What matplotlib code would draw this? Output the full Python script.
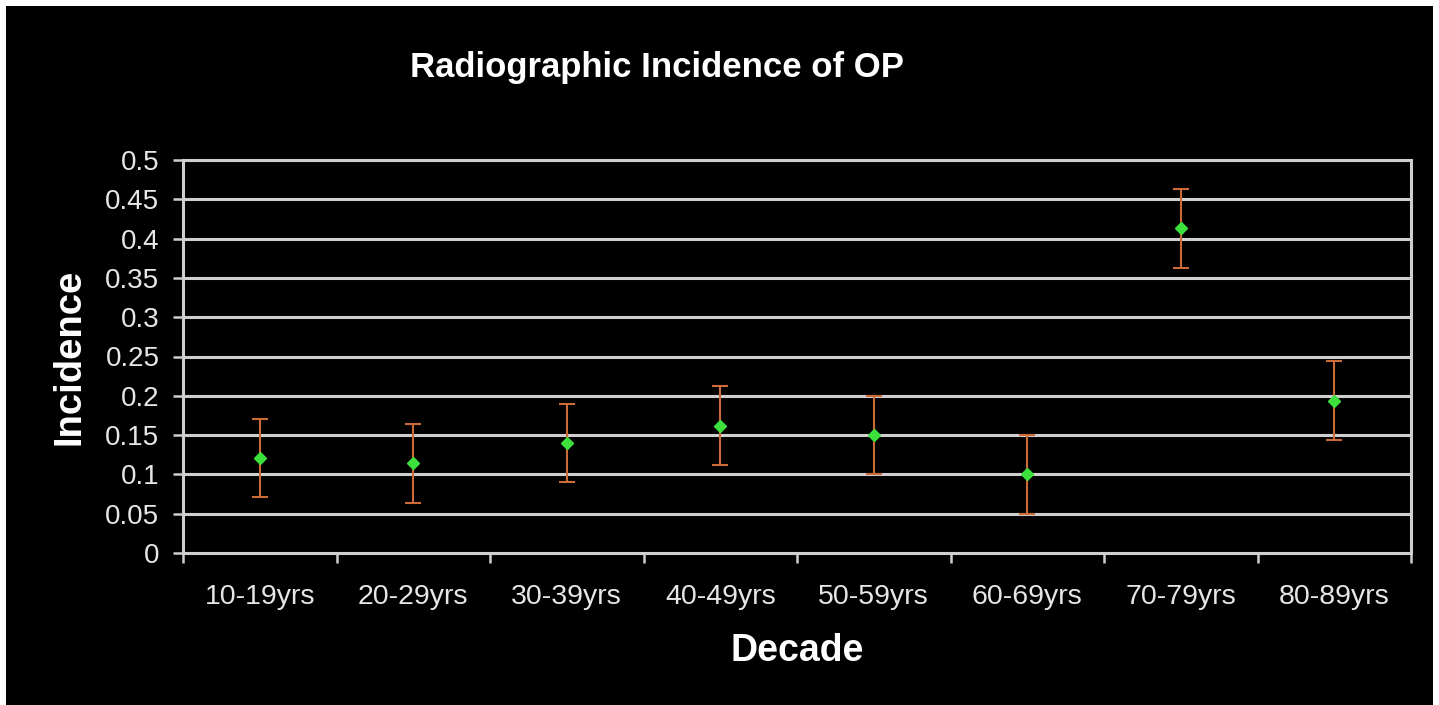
import numpy as np
import matplotlib.pyplot as plt
from matplotlib.patches import Rectangle

decades = ['10-19yrs', '20-29yrs', '30-39yrs', '40-49yrs',
           '50-59yrs', '60-69yrs', '70-79yrs', '80-89yrs']
incidence = [0.121, 0.114, 0.140, 0.162, 0.150, 0.100, 0.413, 0.194]
err = [0.05, 0.05, 0.05, 0.05, 0.05, 0.05, 0.05, 0.05]

plt.rcParams['font.family'] = ['Liberation Sans', 'DejaVu Sans']

fig = plt.figure(figsize=(14.39, 7.05), dpi=100)
fig.patch.set_facecolor('white')
# black slide background with thin white border
fig.patches.append(Rectangle((6 / 1439, 0), 1427 / 1439, 699 / 705,
                             transform=fig.transFigure, facecolor='black',
                             edgecolor='none', zorder=-10))

ax = fig.add_axes([183 / 1439, 1 - 553 / 705, 1228 / 1439, 393 / 705])
ax.set_facecolor('black')

grid_c = '#cfcfcf'
x = np.arange(len(decades))
ax.errorbar(x, incidence, yerr=err, fmt='none', ecolor='#cc6a38',
            elinewidth=1.5, capsize=6, capthick=1.5, zorder=3)
ax.plot(x, incidence, 'D', color='#3ee03e', markersize=6, zorder=4)

ax.set_xlim(-0.5, len(decades) - 0.5)
ax.set_ylim(0, 0.5)
ax.set_yticks(np.arange(0, 0.51, 0.05))
ax.set_yticklabels(['0', '0.05', '0.1', '0.15', '0.2', '0.25', '0.3',
                    '0.35', '0.4', '0.45', '0.5'])
ax.yaxis.grid(True, color=grid_c, linewidth=2.2)
ax.set_axisbelow(True)

# category labels centred, ticks at category boundaries
ax.set_xticks(x)
ax.set_xticklabels(decades)
ax.tick_params(axis='x', length=0, pad=22, labelsize=20.5, labelcolor='#e6e6e6')
ax.set_xticks(np.arange(-0.5, len(decades)), minor=True)
ax.tick_params(axis='x', which='minor', length=7, width=1.8, color=grid_c)
ax.tick_params(axis='y', length=7, width=1.8, color=grid_c,
               labelsize=20, labelcolor='#e6e6e6', pad=10)

for s in ax.spines.values():
    s.set_color(grid_c)
    s.set_linewidth(2.2)

fig.text(657 / 1439, 1 - 68 / 705, 'Radiographic Incidence of OP',
         color='white', fontsize=25, fontweight='bold',
         ha='center', va='center')
ax.set_xlabel('Decade', color='white', fontsize=27, fontweight='bold',
              labelpad=17)
ax.set_ylabel('Incidence', color='white', fontsize=27.5, fontweight='bold',
              labelpad=13)

fig.savefig('out.png', dpi=100, facecolor=fig.get_facecolor())
